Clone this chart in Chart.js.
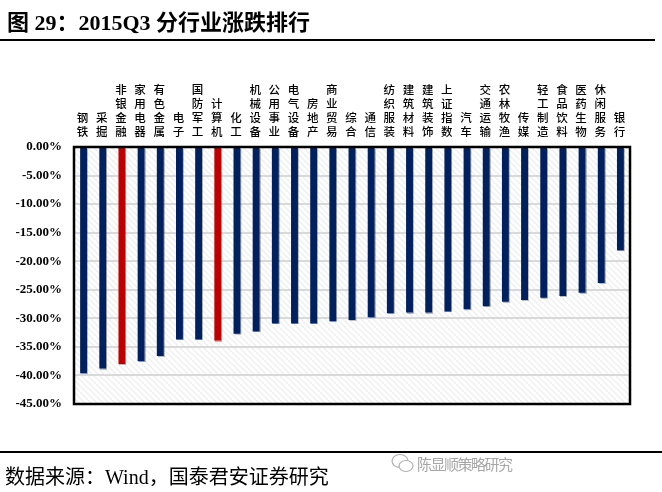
<!DOCTYPE html>
<html>
<head>
<meta charset="utf-8">
<script src="https://cdn.jsdelivr.net/npm/chart.js@4.4.1/dist/chart.umd.min.js"></script>
<style>
    body { margin: 0; background: #fff; }
    #wrap { position: relative; width: 662px; height: 492px; overflow: hidden; }
    #chartBox { position: absolute; left: 0; top: 0; width: 662px; height: 492px; }
    .title { position: absolute; left: 7px; top: 4px; font: bold 22px "Liberation Serif", "Noto Sans CJK SC", serif; color: #000; white-space: nowrap; }
    .rule { position: absolute; left: 0; height: 0; border-top: 2px solid #000; }
    .source { position: absolute; left: 5px; top: 461px; font: 20px "Liberation Serif", "Noto Sans CJK SC", serif; color: #000; white-space: nowrap; }
    .mark { position: absolute; left: 417px; top: 453px; font: 15px "Noto Sans CJK SC", sans-serif; color: #a6a6a6; white-space: nowrap; letter-spacing: -1.5px; }
    .icon { position: absolute; left: 390px; top: 452px; }
</style>
</head>
<body>
<div id="wrap">
    <div id="chartBox"><canvas id="rankChart"></canvas></div>
    <div class="title">图 29：2015Q3 分行业涨跌排行</div>
    <div class="rule" style="top:39px; width:655px;"></div>
    <div class="rule" style="top:451px; width:662px;"></div>
    <div class="source">数据来源：Wind，国泰君安证券研究</div>
    <svg class="icon" width="26" height="24" viewBox="0 0 26 24">
        <ellipse cx="10" cy="9" rx="8" ry="6.5" fill="none" stroke="#b0b0b0" stroke-width="1.2"/>
        <ellipse cx="16" cy="14" rx="7" ry="5.5" fill="#fff" stroke="#b0b0b0" stroke-width="1.2"/>
    </svg>
    <div class="mark">陈显顺策略研究</div>
</div>
<script>
// 行业名称（按涨跌排序）
const industries = ["钢铁", "采掘", "非银金融", "家用电器", "有色金属", "电子", "国防军工", "计算机", "化工",
    "机械设备", "公用事业", "电气设备", "房地产", "商业贸易", "综合", "通信", "纺织服装", "建筑材料",
    "建筑装饰", "上证指数", "汽车", "交通运输", "农林牧渔", "传媒", "轻工制造", "食品饮料", "医药生物",
    "休闲服务", "银行"];

// 2015Q3 涨跌幅 (%)
const changes = [-39.6, -38.8, -38.0, -37.5, -36.6, -33.7, -33.7, -33.9, -32.7,
    -32.3, -30.9, -30.9, -30.9, -30.5, -30.3, -29.8, -29.1, -29.0,
    -29.0, -28.8, -28.4, -27.9, -27.1, -26.8, -26.4, -26.1, -25.5,
    -23.8, -18.1];

// 标红的行业
const highlighted = ["非银金融", "计算机"];

// 纵轴刻度
const yTicks = [0, -5, -10, -15, -20, -25, -30, -35, -40, -45];

const NAVY = "#00205f";
const RED = "#c00000";

function makeHatch() {
    const c = document.createElement("canvas");
    c.width = 6;
    c.height = 6;
    const g = c.getContext("2d");
    g.fillStyle = "#ffffff";
    g.fillRect(0, 0, 6, 6);
    g.strokeStyle = "#efefef";
    g.lineWidth = 1.4;
    g.beginPath();
    g.moveTo(-1, -1); g.lineTo(7, 7);
    g.moveTo(-4, 2); g.lineTo(4, 10);
    g.moveTo(2, -4); g.lineTo(10, 4);
    g.stroke();
    return g.createPattern(c, "repeat");
}

const plotBackground = {
    id: "plotBackground",
    beforeDraw(chart) {
        const { ctx, chartArea: a } = chart;
        ctx.save();
        ctx.fillStyle = makeHatch();
        ctx.fillRect(a.left, a.top, a.right - a.left, a.bottom - a.top);
        ctx.restore();
    }
};

const barShadow = {
    id: "barShadow",
    beforeDatasetsDraw(chart) {
        const ctx = chart.ctx;
        ctx.save();
        ctx.shadowColor = "rgba(0,0,0,0.25)";
        ctx.shadowOffsetX = 1;
        ctx.shadowOffsetY = 1;
        ctx.shadowBlur = 0.5;
    },
    afterDatasetsDraw(chart) {
        chart.ctx.restore();
    }
};

const frameAndLabels = {
    id: "frameAndLabels",
    afterDraw(chart) {
        const { ctx, chartArea: a } = chart;
        const xScale = chart.scales.x;
        ctx.save();
        ctx.strokeStyle = "#000";
        ctx.lineWidth = 2.5;
        ctx.strokeRect(a.left, a.top, a.right - a.left, a.bottom - a.top);

        // 竖排的行业名称
        ctx.fillStyle = "#000";
        ctx.font = "500 11.5px 'Noto Sans CJK SC', sans-serif";
        ctx.textAlign = "center";
        ctx.textBaseline = "middle";
        const step = 14;
        const bottomY = a.top - 15;
        industries.forEach((name, i) => {
            const x = xScale.getPixelForValue(i) - 1;
            const chars = Array.from(name);
            chars.forEach((ch, k) => {
                const y = bottomY - (chars.length - 1 - k) * step;
                ctx.fillText(ch, x, y);
            });
        });
        ctx.restore();
    }
};

new Chart(document.getElementById("rankChart"), {
    type: "bar",
    data: {
        labels: industries,
        datasets: [{
            data: changes,
            backgroundColor: industries.map(n => highlighted.includes(n) ? RED : NAVY),
            barPercentage: 0.36,
            categoryPercentage: 1.0
        }]
    },
    options: {
        responsive: true,
        maintainAspectRatio: false,
        animation: false,
        layout: { padding: { left: 0, right: 32, top: 147, bottom: 88 } },
        plugins: {
            legend: { display: false },
            tooltip: { enabled: false }
        },
        scales: {
            x: {
                display: false,
                grid: { display: false }
            },
            y: {
                min: -45,
                max: 0,
                afterFit(scale) { scale.width = 74; },
                afterBuildTicks(scale) { scale.ticks = yTicks.map(v => ({ value: v })); },
                grid: { color: "#d9d9d9", lineWidth: 2, drawTicks: false },
                border: { display: false },
                ticks: {
                    padding: 12,
                    color: "#000",
                    font: { family: "'Liberation Serif', serif", size: 13, weight: "bold" },
                    callback: v => (v === 0 ? 0 : v).toFixed(2) + "%"
                }
            }
        }
    },
    plugins: [plotBackground, barShadow, frameAndLabels]
});
</script>
</body>
</html>
